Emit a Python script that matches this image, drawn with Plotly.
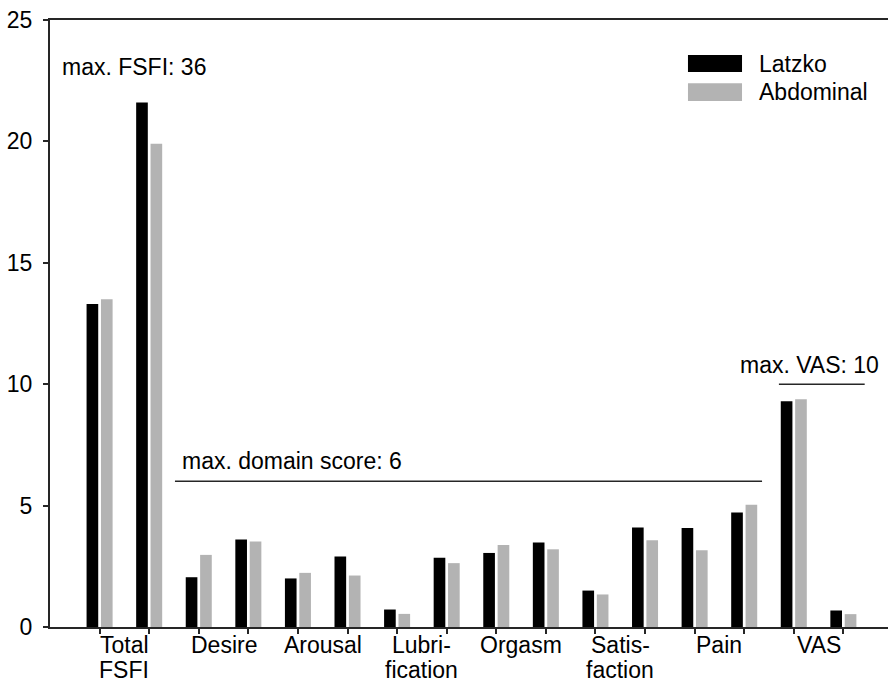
import plotly.graph_objects as go

# ---- data ----
categories = ["Total<br>FSFI", "Desire", "Arousal", "Lubri-<br>fication",
              "Orgasm", "Satis-<br>faction", "Pain", "VAS"]
latzko = [13.3, 21.6, 2.05, 3.6, 2.0, 2.9, 0.72, 2.85,
          3.05, 3.48, 1.5, 4.1, 4.08, 4.72, 9.3, 0.68]
abdominal = [13.5, 19.9, 2.97, 3.52, 2.23, 2.12, 0.54, 2.63,
             3.38, 3.2, 1.34, 3.57, 3.16, 5.04, 9.38, 0.53]
series_names = ["Latzko", "Abdominal"]
y_ticks = [0, 5, 10, 15, 20, 25]
domain_max = 6
vas_max = 10

FONT = "Liberation Sans, Arial, sans-serif"
FS = 23
BLACK = "#000000"
GRAY = "#b3b3b3"
LINE = "#262626"

positions = list(range(len(latzko)))

fig = go.Figure()
fig.add_trace(go.Bar(x=positions, y=latzko, name=series_names[0],
                     marker=dict(color=BLACK, line=dict(width=0)), showlegend=False))
fig.add_trace(go.Bar(x=positions, y=abdominal, name=series_names[1],
                     marker=dict(color=GRAY, line=dict(width=0)), showlegend=False))

annotations = []
# category labels centred between the two pairs of each category
for i, c in enumerate(categories):
    lines = c.split("<br>")
    annotations.append(dict(x=2 * i + 0.5, y=0, xref="x", yref="y", text=lines[0],
                            showarrow=False, yanchor="top", xanchor="center",
                            yshift=-4, borderpad=0,
                            font=dict(family=FONT, size=FS, color="#000")))
    if len(lines) > 1:
        annotations.append(dict(x=2 * i + 0.5, y=0, xref="x", yref="y", text=lines[1],
                                showarrow=False, yanchor="top", xanchor="center",
                                yshift=-29, borderpad=0,
                                font=dict(family=FONT, size=FS, color="#000")))

annotations += [
    dict(x=-0.79, y=23.06, xref="x", yref="y", text="max. FSFI: 36", showarrow=False,
         xanchor="left", yanchor="middle", font=dict(family=FONT, size=FS, color="#000")),
    dict(x=1.63, y=6.85, xref="x", yref="y", text="max. domain score: 6", showarrow=False,
         xanchor="left", yanchor="middle", font=dict(family=FONT, size=FS, color="#000")),
    dict(x=14.31, y=10.8, xref="x", yref="y", text="max. VAS: 10", showarrow=False,
         xanchor="center", yanchor="middle", font=dict(family=FONT, size=FS, color="#000")),
    # legend texts
    dict(x=0.8433, y=0.9283, xref="paper", yref="paper", text=series_names[0], showarrow=False,
         xanchor="left", yanchor="middle", font=dict(family=FONT, size=FS, color="#000")),
    dict(x=0.8433, y=0.8813, xref="paper", yref="paper", text=series_names[1], showarrow=False,
         xanchor="left", yanchor="middle", font=dict(family=FONT, size=FS, color="#000")),
]

shapes = [
    dict(type="line", xref="x", yref="y", x0=1.52, x1=13.36, y0=domain_max, y1=domain_max,
         line=dict(color=LINE, width=1.6)),
    dict(type="line", xref="x", yref="y", x0=13.70, x1=15.43, y0=vas_max, y1=vas_max,
         line=dict(color=LINE, width=1.6)),
    # legend swatches
    dict(type="rect", xref="paper", yref="paper", x0=0.7613, x1=0.8258, y0=0.9143, y1=0.9423,
         fillcolor=BLACK, line=dict(width=0)),
    dict(type="rect", xref="paper", yref="paper", x0=0.7613, x1=0.8258, y0=0.8666, y1=0.8958,
         fillcolor=GRAY, line=dict(width=0)),
]

fig.update_layout(
    width=888, height=685,
    margin=dict(l=50, r=0, t=20, b=58, pad=0),
    paper_bgcolor="white", plot_bgcolor="white",
    barmode="group", bargap=0.42, bargroupgap=0.19,
    font=dict(family=FONT, size=FS, color="#000"),
    annotations=annotations, shapes=shapes,
    showlegend=False,
)
fig.update_xaxes(range=[-1.0, 15.9], tickmode="array", tickvals=positions,
                 showticklabels=False, ticks="outside", ticklen=5, tickwidth=1.5,
                 tickcolor=LINE, showline=True, linecolor=LINE, linewidth=2,
                 mirror=True, showgrid=False, zeroline=False)
fig.update_yaxes(range=[0, 25], tickmode="array", tickvals=y_ticks,
                 ticks="outside", ticklen=5, tickwidth=1.5, tickcolor=LINE,
                 showline=True, linecolor=LINE, linewidth=2, showgrid=False,
                 zeroline=False, ticklabelstandoff=6,
                 tickfont=dict(family=FONT, size=FS, color="#000"))

fig.write_html("out.html", config={"displayModeBar": False},
               post_script="document.body.style.margin='0';document.body.style.padding='0';")
